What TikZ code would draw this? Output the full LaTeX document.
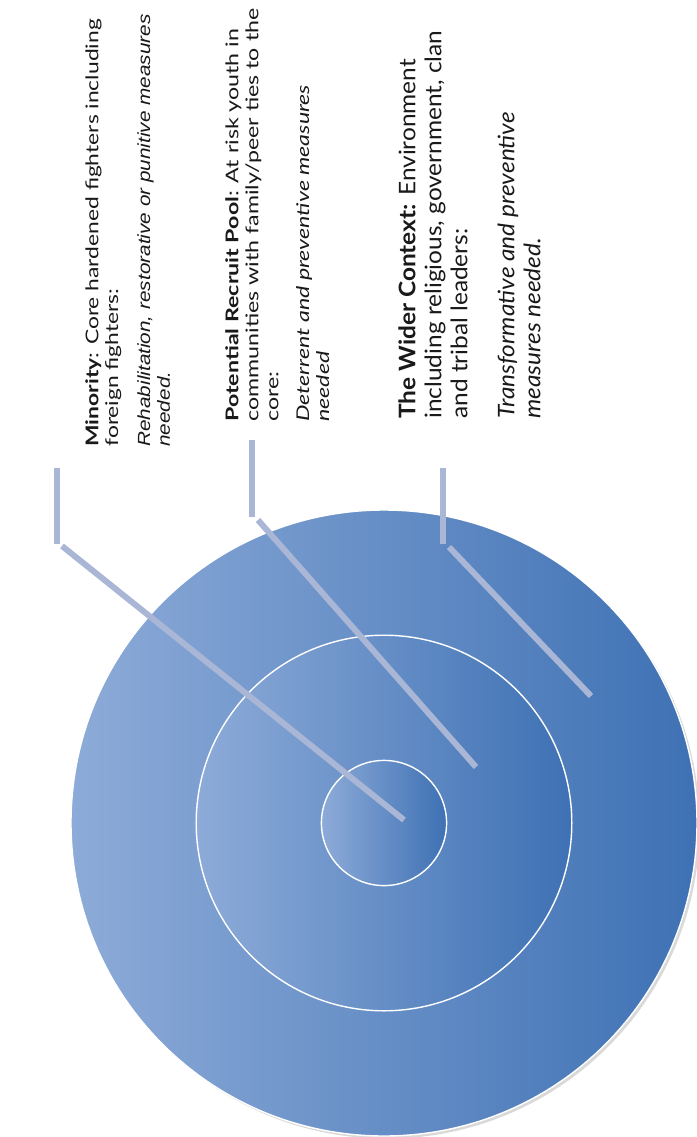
\documentclass[tikz,border=0pt]{standalone}
\usepackage{fontspec}
\setmainfont{Lato}
\newfontfamily\arialfont{Liberation Sans}
\usepackage{tikz}
\usetikzlibrary{shadows}
\definecolor{ringlight}{RGB}{141,171,216}
\definecolor{ringdark}{RGB}{62,113,180}
\definecolor{leader}{RGB}{170,182,213}

\begin{document}
\begin{tikzpicture}[x=0.02cm,y=-0.02cm,
  ring/.style={draw=white,line width=0.8pt,left color=ringlight,right color=ringdark},
  leaderline/.style={draw=leader,line width=3.4pt},
  ringtext/.style={rotate=90,anchor=north west,inner sep=0pt,align=left,text=black!90}]
\def\u{62.6}
\useasboundingbox (0,0) rectangle (697,1137);
\coordinate (ctr) at (384,823);
% Rings, largest first so the smaller ones sit on top
\draw[ring,drop shadow={shadow xshift=1.5pt,shadow yshift=-1.5pt,opacity=0.3}] (ctr) circle ({5*\u});
\foreach \k in {3,1}{\draw[ring] (ctr) circle ({\k*\u});}
% Leader ends
\coordinate (minTop) at (57,468);  \coordinate (minBend) at (57,544);
\coordinate (minFoot) at (62,546); \coordinate (minEnd) at (404,820);
\coordinate (poolTop) at (252,440);  \coordinate (poolBend) at (252,517);
\coordinate (poolFoot) at (258,520); \coordinate (poolEnd) at (476,767);
\coordinate (ctxTop) at (443,468);  \coordinate (ctxBend) at (443,544);
\coordinate (ctxFoot) at (449,547); \coordinate (ctxEnd) at (591,696);
% Leaders: a short upright stub, then a slant into the ring
\foreach \n in {min,pool,ctx}{
\draw[leaderline] (\n Top) -- (\n Bend);
\draw[leaderline] (\n Foot) -- (\n End);}
% Rotated labels (stretched along the line, as in the scan)
\node[ringtext,xscale=1.3,font=\fontsize{10}{11.2}\selectfont] (minority) at (85,447)
  {\textbf{Minority}: Core hardened fighters including\\ foreign fighters:};
\node[ringtext,xscale=1.18,font=\arialfont\itshape\fontsize{10}{11.2}\selectfont] (minorityNote) at (137,447)
  {Rehabilitation, restorative or punitive measures\\ needed.};
\node[ringtext,xscale=1.32,font=\fontsize{10}{11.4}\selectfont] (pool) at (225,422)
  {\textbf{Potential Recruit Pool}: At risk youth in\\ communities with family/peer ties to the\\ core:\\[6pt]
   \textit{Deterrent and preventive measures}\\ \textit{needed}};
\node[ringtext,xscale=1.07,font=\fontsize{13}{14.8}\selectfont] (context) at (398,419)
  {\textbf{The Wider Context:} Environment\\ including religious, government, clan\\ and tribal leaders:\\[12pt]
   \textit{Transformative and preventive}\\ \textit{measures needed.}};
\end{tikzpicture}
\end{document}
